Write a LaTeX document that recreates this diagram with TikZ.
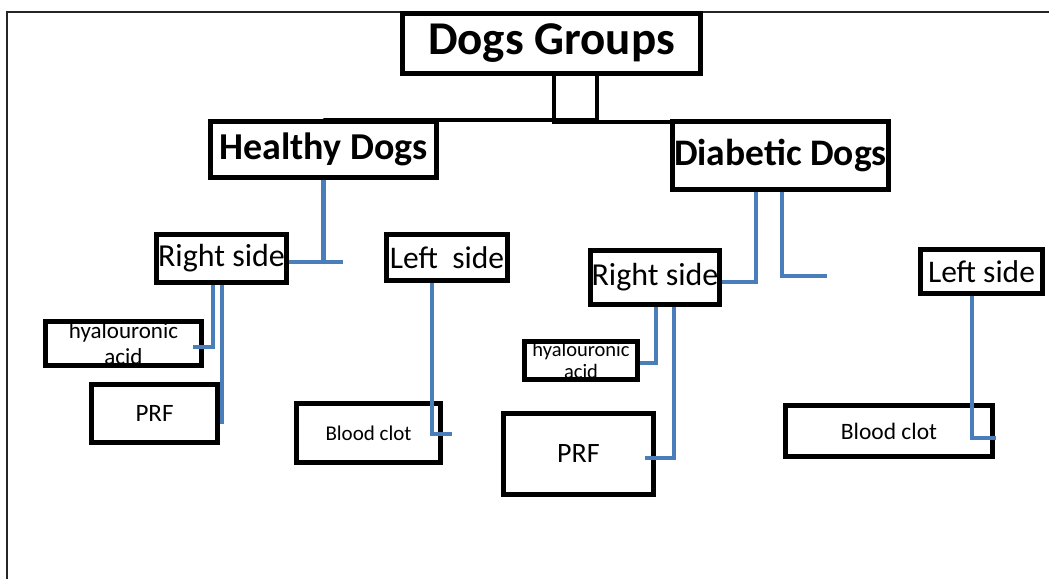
\documentclass[tikz,border=0pt]{standalone}
\usepackage{fontspec}
\setmainfont{Carlito}
\definecolor{linkblue}{RGB}{74,126,187}
\tikzset{
  grpbox/.style={draw, line width=4.5pt, inner sep=0pt, align=center},
  grpline/.style={line width=4.2pt},
  sideline/.style={draw=linkblue, line width=4.5pt},
}

\begin{document}
\begin{tikzpicture}[x=1pt,y=-1pt]
          \useasboundingbox (0,0) rectangle (1049,579);
          \draw[line width=1.8pt, black!85] (7,579) -- (7,12) -- (1049,12);
          % groups
          \node[grpbox, minimum width=298pt, minimum height=60pt, font=\fontsize{47}{52}\selectfont\bfseries] (groups) at (551.5,43.5) {Dogs Groups};
          \node[grpbox, minimum width=226pt, minimum height=56pt, font=\fontsize{38}{42}\selectfont\bfseries] (healthy) at (323.5,149.5) {Healthy Dogs};
          \node[grpbox, minimum width=216pt, minimum height=68pt, font=\fontsize{37.5}{42}\selectfont\bfseries] (diabetic) at (780.5,155.5) {Diabetic Dogs};
          % healthy sides
          \node[grpbox, minimum width=130pt, minimum height=48pt, font=\fontsize{32}{36}\selectfont] (hright) at (221.5,258.5) {Right side};
          \node[grpbox, minimum width=121pt, minimum height=46pt, font=\fontsize{31.5}{35}\selectfont] (hleft) at (447,257.5) {Left\ \ side};
          \node[grpbox, minimum width=156pt, minimum height=44pt, font=\fontsize{23}{26}\selectfont] (hhya) at (123.5,343.5) {hyalouronic\\acid};
          \node[grpbox, minimum width=126pt, minimum height=58pt, font=\fontsize{25}{28}\selectfont] (hprf) at (154.5,413.5) {PRF};
          \node[grpbox, minimum width=144pt, minimum height=59pt, font=\fontsize{21}{24}\selectfont] (hclot) at (368.5,433) {Blood clot};
          % diabetic sides
          \node[grpbox, minimum width=129pt, minimum height=54pt, font=\fontsize{32}{36}\selectfont] (dright) at (655,277.5) {Right side};
          \node[grpbox, minimum width=122pt, minimum height=44pt, font=\fontsize{31.5}{35}\selectfont] (dleft) at (981.5,271.5) {Left side};
          \node[grpbox, minimum width=113pt, minimum height=38pt, font=\fontsize{20.5}{22}\selectfont] (dhya) at (581,360.5) {hyalouronic\\acid};
          \node[grpbox, minimum width=150pt, minimum height=81pt, font=\fontsize{28}{31}\selectfont] (dprf) at (578.5,454) {PRF};
          \node[grpbox, minimum width=207pt, minimum height=51pt, font=\fontsize{23.5}{26}\selectfont] (dclot) at (889,431) {Blood clot};
          % connectors
          \draw[grpline] ([xshift=45.5pt]groups.south) -- ++(0,44) -| (healthy.north);
          \draw[grpline] ([xshift=2.5pt]groups.south) -- ++(0,46) -| ([xshift=47.5pt]diabetic.north);
          \coordinate (hstub) at (343,262);
          \coordinate (dstub) at (827,276);
          \draw[sideline] (healthy.south) |- ([yshift=-3.5pt]hright.east);
          \draw[sideline] (healthy.south) |- (hstub);
          \draw[sideline] ([xshift=-24.5pt]diabetic.south) |- ([yshift=-4.5pt]dright.east);
          \draw[sideline] ([xshift=1.5pt]diabetic.south) |- (dstub);
          \draw[sideline] ([xshift=-8.5pt]hright.south) |- ([xshift=-11pt,yshift=-3.5pt]hhya.east);
          \draw[sideline] ([xshift=0.5pt]hright.south) |- ([yshift=-8.5pt]hprf.east);
          \draw[sideline] ([xshift=-15pt]hleft.south) |- ([xshift=9pt,yshift=-1pt]hclot.east);
          \draw[sideline] ([xshift=1pt]dright.south) |- ([yshift=-2.5pt]dhya.east);
          \draw[sideline] ([xshift=19pt]dright.south) |- ([xshift=-11pt,yshift=-4pt]dprf.east);
          \draw[sideline] ([xshift=-9.5pt]dleft.south) |- ([xshift=1pt,yshift=-7pt]dclot.east);
        \end{tikzpicture}
\end{document}
